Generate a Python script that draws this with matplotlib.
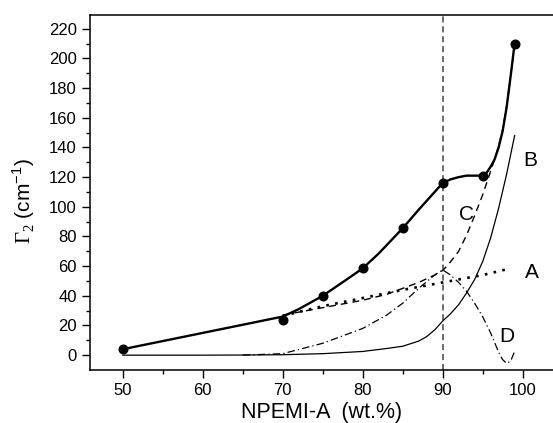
import matplotlib
matplotlib.use("Agg")
import matplotlib.pyplot as plt

plt.rcParams['font.family'] = ['Liberation Sans', 'DejaVu Sans']
plt.rcParams['mathtext.fontset'] = 'custom'
plt.rcParams['mathtext.rm'] = 'Liberation Serif'
plt.rcParams['mathtext.sf'] = 'Liberation Sans'

# measured points
pts_x = [50, 70, 75, 80, 85, 90, 95, 99]
pts_y = [4, 24, 40, 59, 86, 116, 121, 210]

# thick fitted total curve
tot_x = [50, 70, 72, 75, 78, 80, 82, 85, 87, 89, 90, 91, 92, 93, 94, 95, 95.5, 96, 96.5, 97, 97.5, 98, 98.5, 99]
tot_y = [4, 26, 31, 40, 51, 58.5, 68.5, 85.5, 98, 110, 116, 118.5, 120, 121, 121, 121, 123, 127, 132, 140, 151, 167, 188, 210]

# component A (dotted)
a_x = [70, 75, 80, 85, 90, 95, 98.5]
a_y = [26.5, 33, 38.5, 44, 49, 54, 58.5]

# component B (thin solid)
b_x = [50, 60, 65, 70, 75, 80, 83, 85, 87, 88, 89, 90, 91, 92, 93, 94, 95, 96, 97, 98, 99]
b_y = [0, 0, 0.1, 0.3, 1, 2.5, 4.5, 6, 9.5, 12.5, 17, 23, 28, 34, 42, 51, 63, 79, 99, 122, 148]

# component C (dashed)
c_x = [70, 75, 80, 83, 85, 87, 89, 90, 91, 92, 93, 94, 95, 96, 96.5, 97, 97.5, 98, 98.5, 99]
c_y = [27, 32, 37, 41, 45, 49, 54, 57, 63, 70, 81, 94, 108, 124, 132, 141, 152, 168, 188, 208]

# component D (dash-dot)
d_x = [65, 70, 75, 80, 83, 85, 87, 89, 90, 91, 92, 93, 94, 95, 96, 97, 97.5, 98, 98.5, 99]
d_y = [0, 1, 8, 18, 27, 35, 45, 54, 57.5, 54, 49, 43, 35, 26, 15, 2, -3, -5.5, -4, 2.5]

xticks = [50, 60, 70, 80, 90, 100]
yticks = list(range(0, 221, 20))

fig = plt.figure(figsize=(5.53, 4.23), dpi=100)
ax = fig.add_axes([0.1627, 0.1253, 0.8373, 0.8400])

ax.axvline(90, color='#444444', lw=1.1, ls=(0, (4, 2.5)), zorder=1)

ax.plot(b_x, b_y, color='black', lw=0.9, zorder=2)
ax.plot(a_x, a_y, color='black', lw=1.9, ls=(0, (1, 2.4)), zorder=2)
ax.plot(c_x, c_y, color='black', lw=1.0, ls=(0, (5, 3.5)), zorder=2)
ax.plot(d_x, d_y, color='black', lw=0.9, ls=(0, (6, 2.5, 1, 2.5)), zorder=2)
ax.plot(tot_x, tot_y, color='black', lw=1.7, zorder=3)
ax.plot(pts_x, pts_y, 'o', color='black', ms=6.2, zorder=4)

ax.text(101.1, 56, 'A', fontsize=15, ha='center', va='center')
ax.text(100.9, 131.5, 'B', fontsize=15, ha='center', va='center')
ax.text(93.0, 94.5, 'C', fontsize=15, ha='center', va='center')
ax.text(98.0, 12.3, 'D', fontsize=15, ha='center', va='center')

ax.set_xlim(45.9, 103.8)
ax.set_ylim(-10, 229.5)
ax.set_xticks(xticks)
ax.set_yticks(yticks)
ax.set_xticks([55, 65, 75, 85, 95], minor=True)
ax.set_yticks(list(range(10, 221, 20)), minor=True)
ax.tick_params(axis='both', which='major', direction='out', length=6, width=1, labelsize=12)
ax.tick_params(axis='both', which='minor', direction='out', length=3, width=1)
ax.spines['right'].set_visible(False)
for s in ['left', 'bottom', 'top']:
    ax.spines[s].set_linewidth(1.1)

ax.set_xlabel('NPEMI-A  (wt.%)', fontsize=15.5, labelpad=3)
ax.set_ylabel(r'$\Gamma_{2}$ (cm$^{\mathsf{-1}}$)', fontsize=15)
ax.yaxis.set_label_coords(-0.115, 0.475)

fig.savefig('out.png', dpi=100)
